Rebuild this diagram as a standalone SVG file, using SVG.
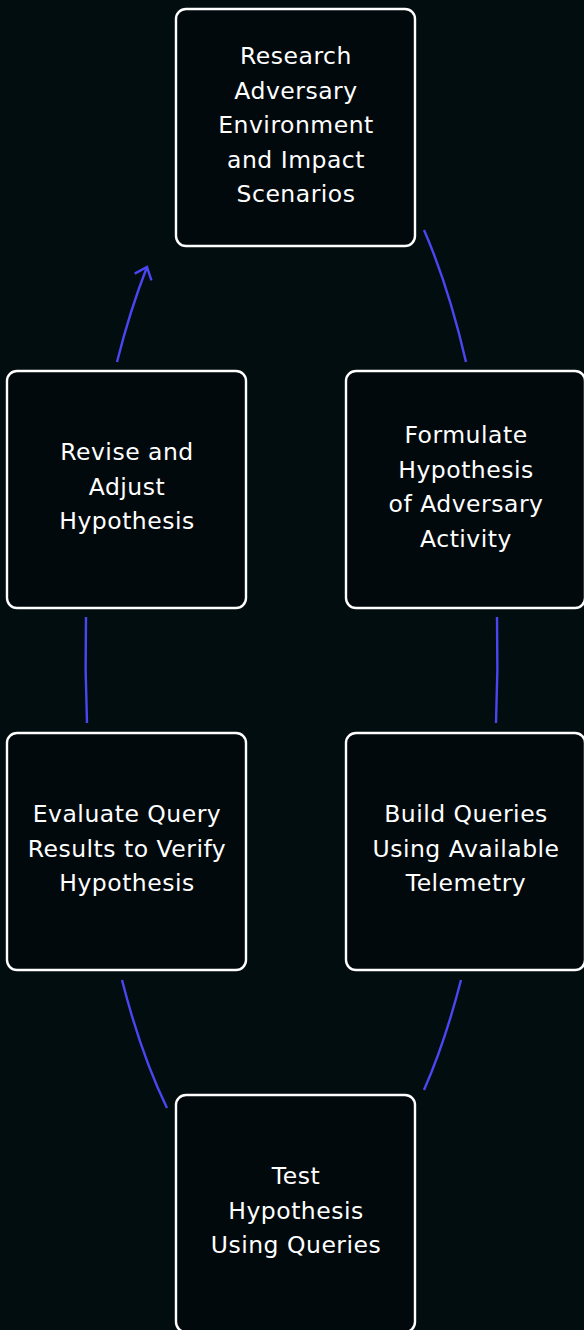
<svg xmlns="http://www.w3.org/2000/svg" width="584" height="1330" viewBox="0 0 584 1330">
  <style>
    .box { fill: #01090c; stroke: #ffffff; stroke-width: 2.4; }
    .lbl { fill: #ffffff; font-family: "DejaVu Sans", "Noto Sans", "Liberation Sans", sans-serif; font-size: 23.5px; letter-spacing: 0.5px; text-anchor: middle; }
    .edge { fill: none; stroke: #4a47f2; stroke-width: 2.4; stroke-linecap: butt; }
  </style>
  <defs>
    <marker id="chev" viewBox="0 0 14 22" refX="12" refY="11" markerWidth="14" markerHeight="22" markerUnits="userSpaceOnUse" orient="auto">
      <path d="M1.3,2 L12,11 L1.3,20" fill="none" stroke="#4a47f2" stroke-width="2.4" stroke-linejoin="miter"/>
    </marker>
  </defs>

  <rect width="584" height="1330" fill="#020d10"/>

  <!-- cycle connectors: arcs of one ellipse around the diagram centre -->
  <g id="connectors">
    <path class="edge" d="M424,230 A201,574 0 0 1 466,362"/>
    <path class="edge" d="M497,617 A201,574 0 0 1 496,723"/>
    <path class="edge" d="M461,980 A201,574 0 0 1 424,1090"/>
    <path class="edge" d="M167,1108 A201,574 0 0 1 122,980"/>
    <path class="edge" d="M87,723 A201,574 0 0 1 86,617"/>
    <path class="edge" d="M117,362 A201,574 0 0 1 147,267" marker-end="url(#chev)"/>
  </g>

  <g id="research">
    <rect class="box" x="176" y="9" width="239" height="237" rx="10"/>
    <text class="lbl" x="296" y="64">Research</text>
    <text class="lbl" x="296" y="98.5">Adversary</text>
    <text class="lbl" x="296" y="133">Environment</text>
    <text class="lbl" x="296" y="167.5">and Impact</text>
    <text class="lbl" x="296" y="202">Scenarios</text>
  </g>

  <g id="formulate">
    <rect class="box" x="346" y="371" width="239" height="237" rx="10"/>
    <text class="lbl" x="466" y="443">Formulate</text>
    <text class="lbl" x="466" y="477.5">Hypothesis</text>
    <text class="lbl" x="466" y="512">of Adversary</text>
    <text class="lbl" x="466" y="546.5">Activity</text>
  </g>

  <g id="revise">
    <rect class="box" x="7" y="371" width="239" height="237" rx="10"/>
    <text class="lbl" x="127" y="460">Revise and</text>
    <text class="lbl" x="127" y="494.5">Adjust</text>
    <text class="lbl" x="127" y="529">Hypothesis</text>
  </g>

  <g id="evaluate">
    <rect class="box" x="7" y="733" width="239" height="237" rx="10"/>
    <text class="lbl" x="127" y="822">Evaluate Query</text>
    <text class="lbl" x="127" y="856.5">Results to Verify</text>
    <text class="lbl" x="127" y="891">Hypothesis</text>
  </g>

  <g id="build">
    <rect class="box" x="346" y="733" width="239" height="237" rx="10"/>
    <text class="lbl" x="466" y="822">Build Queries</text>
    <text class="lbl" x="466" y="856.5">Using Available</text>
    <text class="lbl" x="466" y="891">Telemetry</text>
  </g>

  <g id="test">
    <rect class="box" x="176" y="1095" width="239" height="237" rx="10"/>
    <text class="lbl" x="296" y="1184">Test</text>
    <text class="lbl" x="296" y="1218.5">Hypothesis</text>
    <text class="lbl" x="296" y="1253">Using Queries</text>
  </g>
</svg>
